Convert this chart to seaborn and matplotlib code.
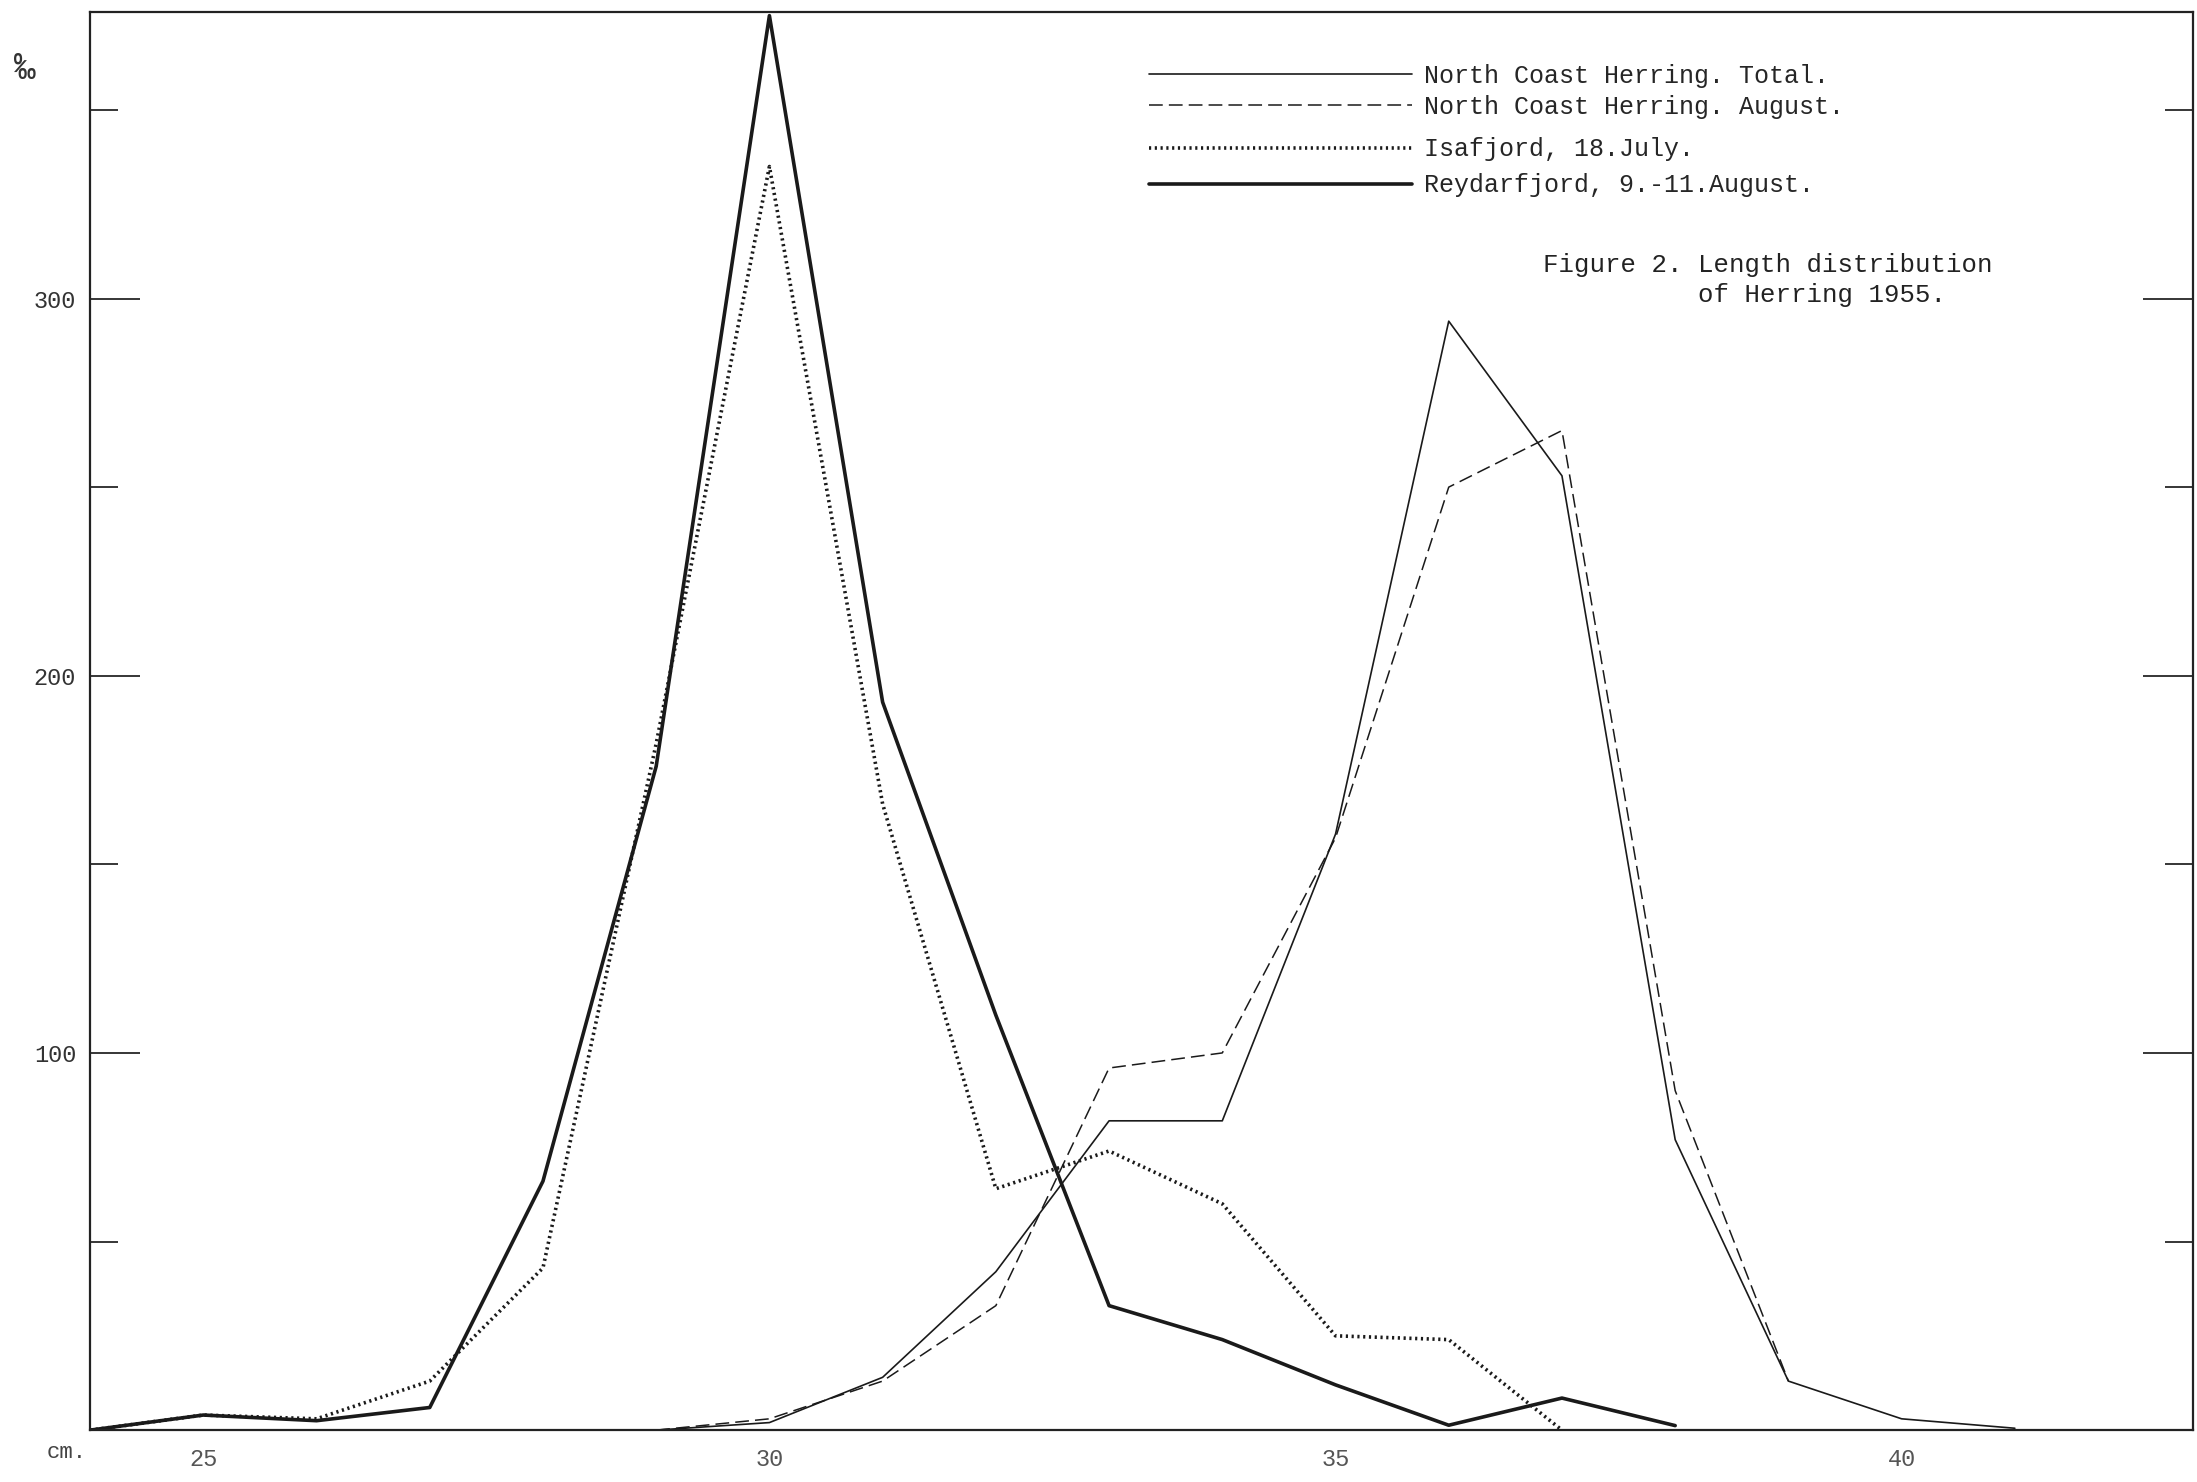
import pandas as pd
import matplotlib.pyplot as plt
import seaborn as sns

# Length (cm) and per mille values
total_cm = [29, 30, 31, 32, 33, 34, 35, 36, 37, 38, 39, 40, 41]
total_val = [0, 2, 14, 42, 82, 82, 158, 294, 253, 77, 13, 3, 0.5]

august_cm = [29, 30, 31, 32, 33, 34, 35, 36, 37, 38, 39]
august_val = [0, 3, 13, 33, 96, 100, 157, 250, 265, 90, 13]

isafjord_cm = [24, 25, 26, 27, 28, 29, 30, 31, 32, 33, 34, 35, 36, 37]
isafjord_val = [0, 4, 3, 13, 43, 182, 335, 166, 64, 74, 60, 25, 24, 0]

reydar_cm = [24, 25, 26, 27, 28, 29, 30, 31, 32, 33, 34, 35, 36, 37, 38]
reydar_val = [0, 4, 2.5, 6, 66, 176, 375, 193, 110, 33, 24, 12, 1.3, 8.5, 1.2]

labels = ["North Coast Herring. Total.", "North Coast Herring. August.",
          "Isafjord, 18.July.", "Reydarfjord, 9.-11.August."]

sns.set_style("white")
plt.rcParams['font.family'] = ['Liberation Mono', 'DejaVu Sans Mono']

fig, ax = plt.subplots(figsize=(21.97, 14.82), dpi=100)
fig.subplots_adjust(left=0.041, right=0.998, top=0.992, bottom=0.035)

series = [
    (total_cm, total_val, dict(lw=1.2, ls='-')),
    (august_cm, august_val, dict(lw=1.1, ls=(0, (9, 4)))),
    (isafjord_cm, isafjord_val, dict(lw=2.6, ls=(0, (0.6, 1.0)))),
    (reydar_cm, reydar_val, dict(lw=2.6, ls='-')),
]
for (xs, ys, style), lab in zip(series, labels):
    df = pd.DataFrame({'cm': xs, 'permille': ys})
    sns.lineplot(data=df, x='cm', y='permille', ax=ax, color='#1a1a1a',
                 errorbar=None, sort=False, label=lab, **style)

ax.set_xlim(24, 42.57)
ax.set_ylim(0, 376)

# x axis: a tick every cm, labels every 5
ax.set_xticks(range(25, 43))
ax.set_xticklabels([str(v) if v % 5 == 0 else '' for v in range(25, 43)],
                   fontsize=17, color='#555555')
ax.tick_params(axis='x', direction='out', length=10, width=1.2, pad=3)

# y axis: ticks every 50 on both sides pointing inwards
ax.set_yticks([100, 200, 300])
ax.set_yticklabels(['100', '200', '300'], fontsize=17, color='#333333')
ax.set_yticks([50, 150, 250, 350], minor=True)
ax.tick_params(axis='y', which='major', direction='in', length=36, width=1.3,
               left=True, right=True, pad=10)
ax.tick_params(axis='y', which='minor', direction='in', length=20, width=1.3,
               left=True, right=True)
ax.set_xlabel('')
ax.set_ylabel('')

for sp in ax.spines.values():
    sp.set_color('#222222')
    sp.set_linewidth(1.6)

# legend in two groups, as typed on the original
handles, labs = ax.get_legend_handles_labels()
leg_opts = dict(loc='upper left', bbox_transform=fig.transFigure, frameon=False,
                fontsize=18, handlelength=10.5, handletextpad=0.5,
                borderpad=0, borderaxespad=0)
leg1 = ax.legend(handles[:2], labs[:2], bbox_to_anchor=(0.523, 0.957),
                 labelspacing=0.28, **leg_opts)
ax.add_artist(leg1)
ax.legend(handles[2:], labs[2:], bbox_to_anchor=(0.523, 0.9073),
          labelspacing=0.48, **leg_opts)

fig.text(0.7025, 0.829, "Figure 2. Length distribution\n          of Herring 1955.",
         fontsize=18.5, ha='left', va='top', linespacing=1.3, color='#222222')
fig.text(0.0305, 0.0202, "cm.", fontsize=16, ha='center', va='center', color='#444444')
fig.text(0.0114, 0.953, "\u2030", fontsize=26, ha='center', va='center', color='#333333')

plt.savefig('out.png', dpi=100)
plt.close()
